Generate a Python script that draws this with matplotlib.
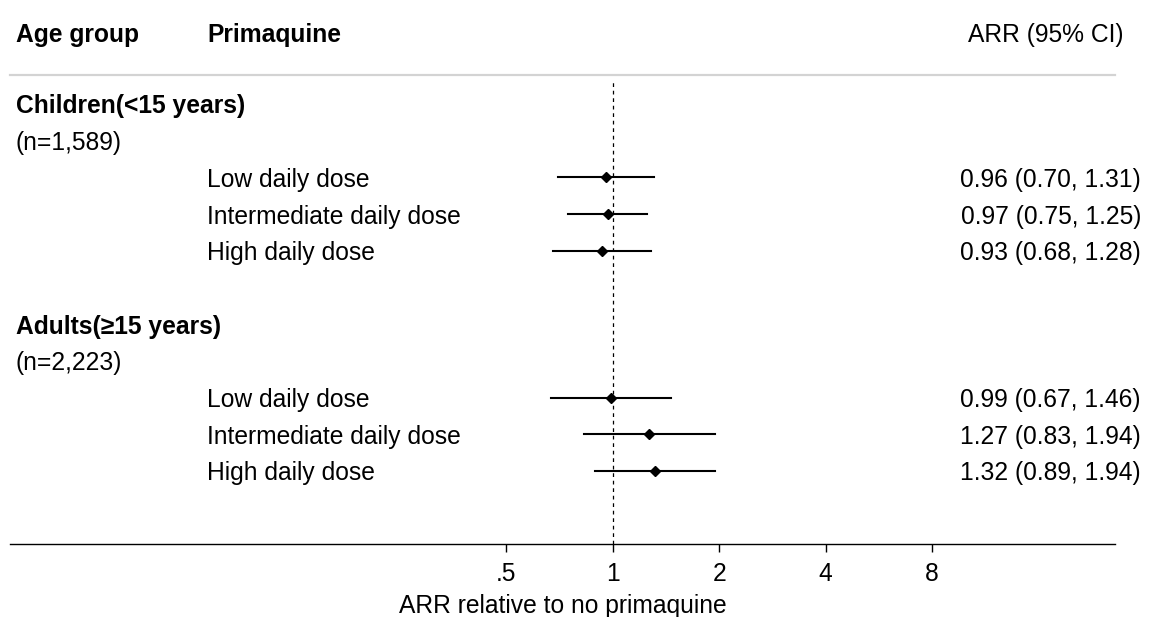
import numpy as np
import matplotlib.pyplot as plt

plt.rcParams['font.family'] = ['Liberation Sans', 'DejaVu Sans']

###################################################################
groups = ["Children(<15 years)", "Adults(\u226515 years)"]
n_labels = ["(n=1,589)", "(n=2,223)"]
doses = ["Low daily dose", "Intermediate daily dose", "High daily dose"]
arr = [0.96, 0.97, 0.93, 0.99, 1.27, 1.32]
ci_lo = [0.70, 0.75, 0.68, 0.67, 0.83, 0.89]
ci_hi = [1.31, 1.25, 1.28, 1.46, 1.94, 1.94]
ticks = [0.5, 1, 2, 4, 8]
tick_labels = [".5", "1", "2", "4", "8"]
###################################################################

fs = 17.7
W, H = 1153, 617
fig = plt.figure(figsize=(W / 100, H / 100), dpi=100)
ax = fig.add_axes([10 / W, 73 / H, 1105 / W, 469 / H])

ax.set_xscale('log', base=2)
ax.set_xlim(2 ** ((10 - 612.7) / 106.5), 2 ** ((1115 - 612.7) / 106.5))
ax.set_ylim(11.99, -0.79)

ytr = ax.get_yaxis_transform()
va = 'center_baseline'

#---------------------------------
# rows
row = 0
for g in range(len(groups)):
    ax.text(0.0054, row, groups[g], transform=ytr, fontsize=fs,
            fontweight='bold', va=va, ha='left')
    ax.text(0.0054, row + 1, n_labels[g], transform=ytr, fontsize=fs,
            va=va, ha='left')
    for d in range(len(doses)):
        i = g * 3 + d
        y = row + 2 + d
        ax.text(0.1783, y, doses[d], transform=ytr, fontsize=fs,
                va=va, ha='left')
        ax.plot([ci_lo[i], ci_hi[i]], [y, y], c='k', lw=1.5)
        ax.plot(arr[i], y, marker='D', ms=4.8, c='k')
        lab = "%.2f (%.2f, %.2f)" % (arr[i], ci_lo[i], ci_hi[i])
        ax.text(1.0235, y, lab, transform=ytr, fontsize=fs,
                va=va, ha='right', clip_on=False)
    row += 6

#---------------------------------
# header
hy = -1.96
ax.text(0.0054, hy, "Age group", transform=ytr, fontsize=fs,
        fontweight='bold', va=va, clip_on=False)
ax.text(0.1783, hy, "Primaquine", transform=ytr, fontsize=fs,
        fontweight='bold', va=va, clip_on=False)
ax.text(1.008, hy, "ARR (95% CI)", transform=ytr, fontsize=fs,
        va=va, ha='right', clip_on=False)

#---------------------------------
ax.axvline(1, ymin=0, ymax=(544 - 79) / 469, c='k', lw=0.9,
           ls=(0, (3, 3)))

ax.spines['left'].set_visible(False)
ax.spines['right'].set_visible(False)
ax.spines['top'].set_color('#d3d3d3')
ax.spines['top'].set_linewidth(1.6)
ax.spines['bottom'].set_linewidth(1.0)

ax.set_yticks([])
ax.set_xticks(ticks)
ax.set_xticklabels(tick_labels)
ax.minorticks_off()
ax.tick_params(axis='x', length=6, width=1.0, labelsize=fs, pad=7)
ax.set_xlabel("ARR relative to no primaquine", fontsize=fs, labelpad=5.5)

fig.savefig("out.png", dpi=100)
